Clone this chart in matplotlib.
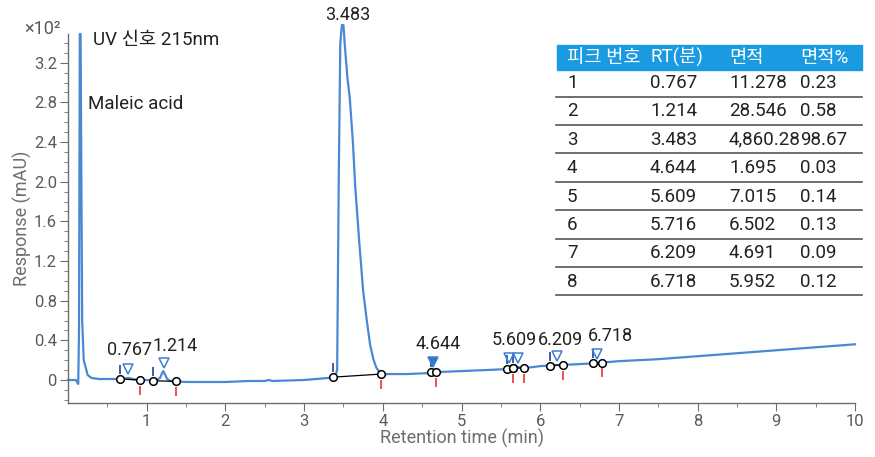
#!/usr/bin/env python3
"""
Chromatogram (UV 215nm) with peak annotations and peak table.
"""
import numpy as np
import matplotlib
matplotlib.use('Agg')
import matplotlib.pyplot as plt
from matplotlib.patches import Rectangle

plt.rcParams['font.family'] = ['Roboto', 'Noto Sans CJK KR', 'DejaVu Sans']

# signal (time in min, response in x10^2 mAU)
time = [0.00, 0.10, 0.13, 0.14, 0.15, 0.16, 0.17, 0.18, 0.20, 0.25, 0.30, 0.40,
        0.60, 0.70, 0.75, 0.78, 0.82, 0.90, 1.00, 1.10, 1.17, 1.19, 1.21, 1.23,
        1.26, 1.30, 1.50, 2.00, 2.30, 2.50, 2.55, 2.60, 3.00, 3.30, 3.38, 3.40,
        3.42, 3.44, 3.46, 3.48, 3.50, 3.52, 3.55, 3.58, 3.62, 3.65, 3.70, 3.75,
        3.80, 3.84, 3.88, 3.92, 3.96, 4.00, 4.05, 4.30, 4.60, 4.64, 4.70, 5.00,
        5.30, 5.58, 5.61, 5.66, 5.72, 5.80, 6.00, 6.20, 6.50, 6.70, 7.00, 7.50,
        8.00, 8.50, 9.00, 9.50, 10.00]
response = [0.00, 0.00, -0.04, 0.50, 3.49, 3.49, 2.00, 0.60, 0.20, 0.05, 0.02, 0.01,
            0.01, 0.01, 0.02, 0.02, 0.01, 0.00, 0.00, -0.01, 0.02, 0.06, 0.09, 0.06,
            0.01, -0.01, -0.02, -0.02, -0.01, -0.01, 0.00, -0.01, 0.00, 0.02, 0.03, 0.05,
            0.10, 2.00, 3.40, 3.58, 3.58, 3.35, 3.05, 2.85, 2.40, 1.95, 1.40, 0.90,
            0.58, 0.35, 0.21, 0.12, 0.08, 0.04, 0.06, 0.06, 0.07, 0.09, 0.08, 0.09,
            0.10, 0.11, 0.13, 0.12, 0.13, 0.12, 0.14, 0.15, 0.16, 0.17, 0.19, 0.21,
            0.24, 0.27, 0.30, 0.33, 0.36]

# peak table
peak_no = [1, 2, 3, 4, 5, 6, 7, 8]
rt = [0.767, 1.214, 3.483, 4.644, 5.609, 5.716, 6.209, 6.718]
area = ['11.278', '28.546', '4,860.28', '1.695', '7.015', '6.502', '4.691', '5.952']
area_pct = ['0.23', '0.58', '98.67', '0.03', '0.14', '0.13', '0.09', '0.12']
# integration start / end
peak_start = [0.66, 1.08, 3.37, 4.615, 5.58, 5.655, 6.12, 6.67]
peak_end = [0.91, 1.37, 3.98, 4.68, 5.655, 5.80, 6.29, 6.79]
labelled = [0, 1, 2, 3, 4, 6, 7]

header = ['피크 번호', 'RT(분)', '면적', '면적%']

W, H = 875, 457
fig = plt.figure(figsize=(W / 100, H / 100), dpi=100)
ax = fig.add_axes([68 / W, 1 - 403 / H, (855 - 68) / W, (403 - 34) / H])

line_c = '#4a88d4'
grey = '#6e6e6e'

ax.plot(time, response, color=line_c, lw=1.6, clip_on=False, zorder=2)

sig = lambda t: np.interp(t, time, response)

# integration baselines, start/end markers
for s, e in zip(peak_start, peak_end):
    ys, ye = sig(s), sig(e)
    ax.plot([s, e], [ys, ye], color='black', lw=0.9, zorder=3)
    ax.plot([s, e], [ys, ye], 'o', ms=5.5, mfc='white', mec='black', mew=1.1, zorder=4)
    ax.vlines(s, ys + 0.05, ys + 0.14, color='#2f4fa6', lw=1.3, zorder=3)
    ax.vlines(e, ye - 0.06, ye - 0.15, color='#e8454a', lw=1.3, zorder=3)

# apex triangles (peak 3 apex is off scale)
for i, r in enumerate(rt):
    if i == 2:
        continue
    ty = sig(r) + 0.09
    filled = (i == 3)
    ax.plot(r, ty, 'v', ms=7, mfc='#3a74c8' if filled else 'none',
            mec='#3a7fd5', mew=1.1, zorder=5)

# apex labels
label_dx = [0.02, 0.15, 0.07, 0.06, 0.06, 0.0, 0.05, 0.17]
label_y = [0.21, 0.25, 3.59, 0.27, 0.31, 0.0, 0.31, 0.35]
for i in labelled:
    ax.text(rt[i] + label_dx[i], label_y[i], f'{rt[i]:.3f}', ha='center', va='bottom',
            fontsize=13, color='#222222', clip_on=False, zorder=6)

ax.set_xlim(0, 10)
ax.set_ylim(-0.232, 3.49)
ax.set_xticks(range(1, 11))
ax.set_xticks(np.arange(0.5, 10, 1.0), minor=True)
ax.set_yticks(np.arange(0, 3.3, 0.4))
ax.set_yticks(np.arange(-0.2, 3.45, 0.1), minor=True)
ax.set_yticklabels(['0'] + [f'{v:.1f}' for v in np.arange(0.4, 3.3, 0.4)])
for sp in ['top', 'right']:
    ax.spines[sp].set_visible(False)
for sp in ['left', 'bottom']:
    ax.spines[sp].set_color(grey)
    ax.spines[sp].set_linewidth(1.0)
ax.tick_params(which='major', length=6, color=grey, labelcolor='#5a5a5a', labelsize=12, pad=2)
ax.tick_params(which='minor', length=3, color=grey)
ax.set_xlabel('Retention time (min)', fontsize=13, color=grey, labelpad=0)
ax.set_ylabel('Response (mAU)', fontsize=13, color=grey, labelpad=1)

fx = lambda px: px / W
fy = lambda py: 1 - py / H

fig.text(fx(61), fy(29), '×10²', ha='right', va='center', fontsize=13, color='#5a5a5a')
fig.text(fx(93), fy(40), 'UV 신호 215nm', ha='left', va='center', fontsize=13.5, color='#222222')
fig.text(fx(88), fy(104), 'Maleic acid', ha='left', va='center', fontsize=13.5, color='#222222')

# peak table
col_x = [567, 650, 729, 800]
fig.patches.append(Rectangle((fx(557), fy(70)), (862 - 557) / W, 25 / H,
                             transform=fig.transFigure, color='#1a9ae0', zorder=1))
for x, h in zip(col_x, header):
    fig.text(fx(x), fy(57.5), h, ha='left', va='center', fontsize=13.5, color='white')
row_h = 28.4
for j in range(len(peak_no)):
    yc = 83 + j * row_h
    cells = [str(peak_no[j]), f'{rt[j]:.3f}', area[j], area_pct[j]]
    for x, c in zip(col_x, cells):
        fig.text(fx(x), fy(yc), c, ha='left', va='center', fontsize=13.5, color='#222222')
    yl = fy(yc + 13.5)
    fig.add_artist(plt.Line2D([fx(556), fx(862)], [yl, yl], color='#555555', lw=1.2))

fig.savefig('out.png', dpi=100)
plt.close(fig)
